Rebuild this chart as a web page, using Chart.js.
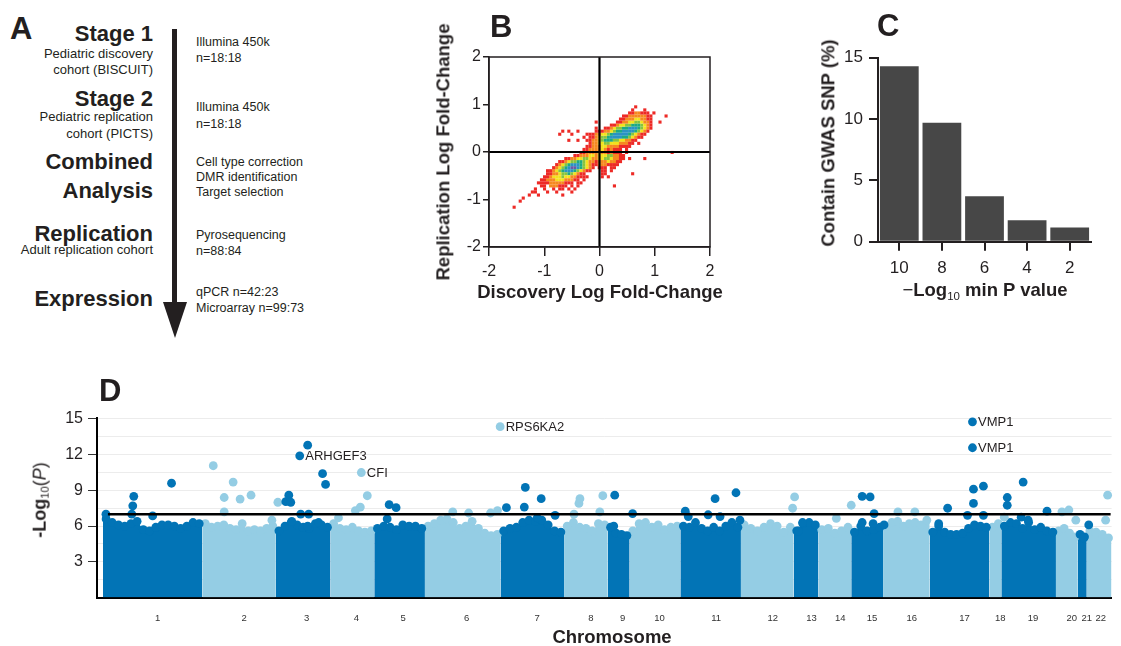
<!DOCTYPE html>
<html>
<head>
<meta charset="utf-8">
<title>Figure</title>
<script src="https://cdn.jsdelivr.net/npm/chart.js@4.4.1/dist/chart.umd.min.js"></script>
<style>
  html, body { margin: 0; padding: 0; background: #fff; }
  body { position: relative; width: 1121px; height: 646px; overflow: hidden;
         font-family: 'Liberation Sans', Arial, Helvetica, sans-serif; color: #231f20; }
  canvas { position: absolute; }
  .txt { position: absolute; white-space: nowrap; line-height: 1.15; }
  .txt sub { font-size: 0.62em; font-weight: normal; vertical-align: -0.3em; line-height: 0; }
</style>
</head>
<body>
<canvas id="chart-b" width="330" height="320" style="left:420px;top:0"></canvas>
<canvas id="chart-c" width="341" height="320" style="left:780px;top:0"></canvas>
<canvas id="chart-d" width="1121" height="286" style="left:0;top:360px"></canvas>
<div style="position:absolute;left:172px;top:29px;width:5px;height:276px;background:#231f20"></div>
<div style="position:absolute;left:162.5px;top:302px;width:0;height:0;border-left:12px solid transparent;border-right:12px solid transparent;border-top:36px solid #231f20"></div>
<script>
'use strict';

// ---- panel B: 2D histogram of fold changes (runs of density levels)
const heatX0 = -1.6, heatDX = 0.055, heatY0 = 0.95, heatDY = 0.064;
const heatColors = ['#ed2a26', '#f6891f', '#f3e21c', '#86c440', '#1daa84', '#2a93c4', '#6b58a6'];
const heatRuns = [
  [0, 41, '1'],
  [1, 40, '1...1'],
  [2, 39, '1122111.1'],
  [3, 37, '1122222211'], [3, 51, '1'],
  [4, 36, '11222332211'],
  [5, 28, '1'], [5, 35, '112233443221..1'],
  [6, 33, '11233445554321'],
  [7, 28, '1'], [7, 31, '1123445566654321'],
  [8, 17, '1.1..1'], [8, 28, '111223455666654321'],
  [9, 16, '1...1'], [9, 25, '11122334566666543211'],
  [10, 24, '1.112344566665543211'],
  [11, 19, '1..1'], [11, 25, '11223455544332211'],
  [12, 26, '122334433322211.1'],
  [13, 25, '112223322221111'],
  [14, 24, '1122223212111.1'],
  [15, 23, '11222232212111.1'], [15, 53, '1'],
  [16, 21, '11222332333442211'],
  [17, 18, '11223344322334432211'], [17, 39, '1....1'],
  [18, 16, '112344554322122232211'],
  [19, 15, '123456665432112221111'],
  [20, 14, '12345677654321.111.11'],
  [21, 12, '112345666543211...11.1'],
  [22, 12, '1122344543211.....11'], [22, 40, '1'],
  [23, 11, '112333433221111'], [23, 30, '1.1'],
  [24, 10, '1122233322211.1'],
  [25, 9, '111122222111.11'],
  [26, 10, '11.222111.1.1'], [26, 34, '1'],
  [27, 8, '1..1..1.11.1.1'],
  [28, 7, '11...1..1....1'],
  [29, 6, '1..1.......1'],
  [30, 4, '1'],
  [31, 3, '1'],
  [33, 1, '1']
];

// ---- panel C
const gwasLabels = ['10', '8', '6', '4', '2'];
const gwasPct = [14.3, 9.7, 3.7, 1.75, 1.15];

// ---- panel D: manhattan plot
const chromNames = ['1','2','3','4','5','6','7','8','9','10','11','12','13','14','15','16','17','18','19','20','21','22'];
const chromStart = [6, 106, 180, 235, 279, 330, 406, 470, 514, 536, 587, 648, 701, 726, 759, 791, 838, 898, 910, 965, 987, 996];
const chromEnd   = [106, 180, 235, 279, 330, 406, 470, 514, 536, 587, 648, 701, 726, 759, 791, 838, 898, 910, 965, 987, 996, 1021];
const chromLabelPos = [61, 148, 211, 261, 308, 372, 443, 497, 529, 566, 623, 680, 719, 748, 780, 820, 873, 909, 942, 981, 996, 1010];
// top of the dense cloud of each chromosome, left to right
const chromEdge = [
  [6.6, 6.3, 6.1, 6.0, 6.2, 6.4, 5.7, 5.6, 5.9, 6.1, 6.1, 6.0, 5.8, 6.0, 6.3, 6.2],
  [6.2, 5.9, 6.0, 6.1, 5.8, 5.7, 6.2, 5.6, 5.7, 5.6, 5.8, 6.0],
  [5.6, 6.0, 6.3, 6.1, 5.9, 5.8, 6.2, 6.1, 5.9],
  [6.2, 5.8, 5.7, 5.9, 5.6, 5.5, 5.6],
  [5.8, 6.0, 5.9, 5.7, 6.1, 6.0, 6.0, 5.8],
  [6.0, 6.2, 6.5, 6.6, 6.3, 5.8, 6.0, 6.4, 5.8, 5.4, 5.2, 5.3],
  [5.6, 5.8, 5.9, 6.3, 6.5, 6.4, 6.5, 6.1, 5.6, 5.5],
  [6.0, 6.3, 5.9, 5.8, 5.6, 6.2, 6.1],
  [5.9, 5.4, 5.3, 5.2],
  [5.6, 6.2, 6.3, 5.9, 6.1, 5.7, 5.9, 6.0],
  [6.0, 5.9, 6.3, 5.8, 5.6, 5.9, 5.6, 6.0, 6.3, 5.9],
  [6.1, 5.8, 5.6, 5.9, 6.2, 6.0, 5.5, 5.9],
  [5.6, 6.2, 6.3, 6.1],
  [5.7, 5.8, 5.4, 5.6, 5.9],
  [5.5, 6.0, 5.6, 5.7, 5.9],
  [6.0, 6.3, 6.4, 6.0, 6.2, 6.3, 6.1, 6.5],
  [5.5, 6.0, 5.5, 5.3, 5.3, 5.4, 5.8, 6.1, 6.0, 5.9],
  [5.9, 6.2],
  [6.0, 6.3, 6.2, 5.8, 6.3, 5.7, 5.9, 5.6, 5.5],
  [5.6, 5.8, 5.4, 5.1],
  [5.3, 5.1],
  [5.6, 5.5, 5.3, 5.0]
];
// isolated probes above the cloud: [position, -log10 P]
const hitsDark = [
  [9, 7.0], [35, 7.0], [36, 7.7], [37, 8.5], [56, 6.85], [75, 9.6],
  [190, 8.05], [193, 8.6], [195, 8.0], [196, 6.4], [204, 11.9], [205, 7.0], [212, 12.8], [212, 6.0], [213, 7.0], [223, 6.3], [227, 10.4], [230, 9.5],
  [292, 6.6], [294, 7.8], [301, 7.55],
  [412, 7.55], [430, 7.6], [431, 9.25], [443, 6.7], [447, 8.3], [461, 6.9],
  [520, 6.0], [521, 8.6], [539, 7.05],
  [592, 7.25], [595, 6.8], [615, 6.95], [622, 8.3], [627, 6.8], [643, 8.8], [647, 6.5],
  [706, 5.6], [710, 6.3],
  [770, 8.5], [778, 8.45], [782, 7.05], [770, 6.3], [781, 6.2], [792, 6.1],
  [847, 6.2], [856, 7.5], [876, 6.9], [881, 14.76], [881, 12.58], [882, 9.1], [882, 7.9], [892, 9.35], [892, 6.9],
  [916, 8.4], [916, 7.75], [930, 6.75], [932, 9.7], [937, 6.5], [956, 7.25],
  [993, 5.0], [998, 6.1]
];
const hitsLight = [
  [117, 11.07], [128, 8.4], [128, 7.2], [137, 9.7], [144, 8.27], [155, 8.6], [176, 6.5], [182, 8.0],
  [243, 6.7], [260, 7.3], [265, 7.6], [266, 10.5], [272, 8.55],
  [358, 7.2], [374, 7.1], [396, 7.1], [403, 7.3], [405.7, 14.35],
  [480, 7.0], [485, 7.9], [486, 8.3], [506, 7.2], [509, 8.55],
  [700, 7.5], [702, 8.45],
  [744, 6.65], [759, 7.75],
  [806, 7.2], [823, 7.2],
  [913, 6.75],
  [971, 7.2], [978, 7.35], [985, 6.5],
  [1015, 6.5], [1017, 8.6]
];
const geneLabels = [
  { name: 'ARHGEF3', x: 204, y: 11.9 },
  { name: 'CFI', x: 266, y: 10.5 },
  { name: 'RPS6KA2', x: 405.7, y: 14.35 },
  { name: 'VMP1', x: 881, y: 14.76 },
  { name: 'VMP1', x: 881, y: 12.58 }
];
const threshold = 7;
const dGridTicks = [0, 1.5, 3, 4.5, 6, 7.5, 9, 10.5, 12, 13.5, 15];

const DARK = '#0274b6', LIGHT = '#94cde4', INK = '#231f20';
Chart.defaults.font.family = "'Liberation Sans', Arial, Helvetica, sans-serif";
Chart.defaults.color = INK;

function put(html, x, y, size, opts = {}) {
  const el = document.createElement('div');
  el.className = 'txt';
  el.innerHTML = html;
  el.style.left = x + 'px';
  el.style.top = y + 'px';
  el.style.fontSize = size + 'px';
  if (opts.bold) el.style.fontWeight = 'bold';
  const tx = opts.align === 'right' ? '-100%' : opts.align === 'left' ? '0' : '-50%';
  el.style.transform = `translate(${tx},-50%)` + (opts.rot ? ` rotate(${opts.rot}deg)` : '');
  document.body.appendChild(el);
}

// ---- panel A (flow text), baselines
const flowLeft = [
  ['Stage 1', 22, true, 41.7], ['Pediatric discovery', 13, false, 58.3], ['cohort (BISCUIT)', 13, false, 74.5],
  ['Stage 2', 22, true, 106.7], ['Pediatric replication', 13, false, 122], ['cohort (PICTS)', 13, false, 138.3],
  ['Combined', 22, true, 170], ['Analysis', 22, true, 198.3],
  ['Replication', 22, true, 241.7], ['Adult replication cohort', 13, false, 255],
  ['Expression', 22, true, 306.7]
];
const flowRight = [
  ['Illumina 450k', 46.7], ['n=18:18', 62.7], ['Illumina 450k', 111.7], ['n=18:18', 128],
  ['Cell type correction', 166], ['DMR identification', 181.7], ['Target selection', 196.7],
  ['Pyrosequencing', 239.3], ['n=88:84', 255], ['qPCR n=42:23', 296.7], ['Microarray n=99:73', 312.7]
];
flowLeft.forEach(([t, s, b, base]) => put(t, 153, base - 0.35 * s, s, { bold: b, align: 'right' }));
flowRight.forEach(([t, base]) => put(t, 196, base - 0.35 * 12.5, 12.5, { align: 'left' }));

// panel letters
put('A', 10, 28.5, 31, { bold: true, align: 'left' });
put('B', 490, 27, 31, { bold: true, align: 'left' });
put('C', 877, 26, 31, { bold: true, align: 'left' });
put('D', 99, 391, 31, { bold: true, align: 'left' });

// axis titles
put('Replication Log Fold-Change', 442.5, 152, 18.5, { bold: true, rot: -90 });
put('Discovery Log Fold-Change', 600, 292, 18.5, { bold: true });
put('Contain GWAS SNP (%)', 828, 143, 18.5, { bold: true, rot: -90 });
put('<span style="font-weight:normal">\u2212</span>Log<sub>10</sub> min P value', 985, 290, 18.5, { bold: true });
put('-Log<sub>10</sub><span style="font-weight:normal">(<i>P</i>)</span>', 40, 500, 18, { bold: true, rot: -90 });
put('Chromosome', 612, 637, 18.5, { bold: true });

const base = {
  responsive: false, animation: false, events: [],
  plugins: { legend: { display: false }, tooltip: { enabled: false } }
};

// ---- panel B chart
const heatLevels = heatColors.map(() => []);
heatRuns.forEach(([r, c0, s]) => {
  [...s].forEach((ch, i) => {
    if (ch === '.') return;
    heatLevels[+ch - 1].push({ x: heatX0 + (c0 + i) * heatDX, y: heatY0 - r * heatDY });
  });
});

const framePlugin = {
  id: 'frame',
  afterDraw(chart) {
    const { ctx, chartArea: a } = chart;
    ctx.save();
    ctx.strokeStyle = INK; ctx.lineWidth = 1.5;
    ctx.strokeRect(a.left, a.top, a.right - a.left, a.bottom - a.top);
    ctx.restore();
  }
};

new Chart(document.getElementById('chart-b'), {
  type: 'scatter',
  data: { datasets: [
    { data: [{ x: -2, y: 0 }, { x: 2, y: 0 }], showLine: true, borderColor: '#000', borderWidth: 2.2, pointRadius: 0, order: 0 },
    { data: [{ x: 0, y: -2 }, { x: 0, y: 2 }], showLine: true, borderColor: '#000', borderWidth: 2.2, pointRadius: 0, order: 0 },
    ...heatLevels.map((pts, k) => ({
      data: pts, pointStyle: 'rect', pointRadius: 2.2, pointBorderWidth: 0,
      backgroundColor: heatColors[k], pointBackgroundColor: heatColors[k], order: 1
    }))
  ] },
  options: {
    ...base,
    layout: { padding: { top: 57, right: 40, left: 0, bottom: 0 } },
    scales: {
      x: { type: 'linear', min: -2, max: 2,
        ticks: { stepSize: 1, padding: 6, font: { size: 16 }, color: INK },
        grid: { drawOnChartArea: false, tickLength: 9, tickColor: INK, lineWidth: 1.5 },
        border: { color: INK, width: 1.5 },
        afterFit: s => { s.height = 73; } },
      y: { type: 'linear', min: -2, max: 2,
        ticks: { stepSize: 1, padding: 2, font: { size: 16 }, color: INK },
        grid: { drawOnChartArea: false, tickLength: 6, tickColor: INK, lineWidth: 1.5 },
        border: { color: INK, width: 1.5 },
        afterFit: s => { s.width = 69; } }
    }
  },
  plugins: [framePlugin]
});

// ---- panel C chart
new Chart(document.getElementById('chart-c'), {
  type: 'bar',
  data: { labels: gwasLabels, datasets: [{ data: gwasPct, backgroundColor: '#474747', barPercentage: 0.91, categoryPercentage: 1 }] },
  options: {
    ...base,
    layout: { padding: { top: 57.7, right: 30, left: 0, bottom: 0 } },
    scales: {
      x: { grid: { offset: false, drawOnChartArea: false, tickLength: 9, tickColor: INK, lineWidth: 2 },
        border: { color: INK, width: 2 },
        ticks: { padding: 7, font: { size: 17 }, color: INK, maxRotation: 0 },
        afterFit: s => { s.height = 78.3; } },
      y: { min: 0, max: 15,
        ticks: { stepSize: 5, padding: 6, font: { size: 17 }, color: INK },
        grid: { drawOnChartArea: false, tickLength: 9, tickColor: INK, lineWidth: 2 },
        border: { color: INK, width: 2 },
        afterFit: s => { s.width = 98; } }
    }
  }
});

// ---- panel D chart
const edgeDark = [], edgeLight = [];
const bodySets = chromNames.map((n, i) => {
  const vals = chromEdge[i];
  const w = (chromEnd[i] - chromStart[i]) / vals.length;
  const pts = vals.map((v, j) => ({ x: chromStart[i] + (j + 0.5) * w, y: v }));
  (i % 2 ? edgeLight : edgeDark).push(...pts);
  return {
    data: [{ x: chromStart[i], y: vals[0] }, ...pts, { x: chromEnd[i], y: vals[vals.length - 1] }],
    fill: 'origin', backgroundColor: i % 2 ? LIGHT : DARK, borderWidth: 0, pointRadius: 0, tension: 0, order: 3
  };
});
const dotSet = (pts, color, order) => ({
  data: pts, showLine: false, pointRadius: 4.4, pointBorderWidth: 0,
  pointBackgroundColor: color, backgroundColor: color, clip: false, order
});

const geneLabelPlugin = {
  id: 'geneLabels',
  afterDatasetsDraw(chart) {
    const { ctx, scales: { x, y } } = chart;
    ctx.save();
    ctx.font = "13px 'Liberation Sans', Arial, sans-serif";
    ctx.fillStyle = INK;
    ctx.textBaseline = 'middle';
    geneLabels.forEach(g => ctx.fillText(g.name, x.getPixelForValue(g.x) + 5.5, y.getPixelForValue(g.y) + 0.5));
    ctx.restore();
  }
};

new Chart(document.getElementById('chart-d'), {
  type: 'line',
  data: { datasets: [
    { data: [{ x: 11, y: threshold }, { x: 1020, y: threshold }], borderColor: '#000', borderWidth: 2.5, pointRadius: 0, order: 0 },
    dotSet(hitsDark.map(([x, y]) => ({ x, y })), DARK, 1),
    dotSet(hitsLight.map(([x, y]) => ({ x, y })), LIGHT, 1),
    dotSet(edgeDark, DARK, 2),
    dotSet(edgeLight, LIGHT, 2),
    ...bodySets
  ] },
  options: {
    ...base,
    layout: { padding: { top: 58, right: 3, left: 0, bottom: 0 } },
    scales: {
      x: { type: 'linear', min: 0, max: 1021,
        afterBuildTicks: s => { s.ticks = chromLabelPos.map(v => ({ value: v })); },
        ticks: { callback: (v, i) => chromNames[i], padding: 15, font: { size: 9.5 }, color: '#333', maxRotation: 0, autoSkip: false },
        grid: { display: false, drawTicks: false },
        border: { color: '#000', width: 2 },
        afterFit: s => { s.height = 48.5; } },
      y: { type: 'linear', min: 0, max: 15.08,
        afterBuildTicks: s => { s.ticks = dGridTicks.map(v => ({ value: v })); },
        ticks: { callback: v => (v > 0 && v % 3 === 0) ? String(v) : '', padding: 5, font: { size: 16 }, color: INK, autoSkip: false },
        grid: {
          color: c => (c.tick && c.tick.value > 0) ? '#ececec' : 'rgba(0,0,0,0)',
          tickColor: c => (c.tick && c.tick.value > 0 && c.tick.value % 3 === 0) ? '#333' : 'rgba(0,0,0,0)',
          tickLength: 9, lineWidth: 1
        },
        border: { color: '#000', width: 2 },
        afterFit: s => { s.width = 97; } }
    }
  },
  plugins: [geneLabelPlugin]
});
</script>
</body>
</html>
